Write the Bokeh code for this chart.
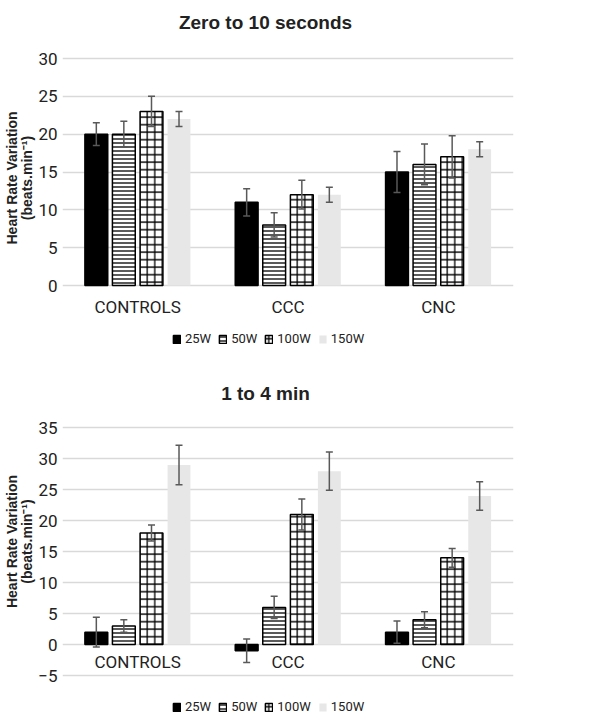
from bokeh.plotting import figure
from bokeh.models import (ColumnDataSource, Whisker, Legend, LegendItem, FactorRange,
                          Range1d, TeeHead, FixedTicker, Label)
from bokeh.transform import dodge
from bokeh.layouts import column
from bokeh.embed import file_html
from bokeh.resources import INLINE

categories = ["CONTROLS", "CCC", "CNC"]
series = ["25W", "50W", "100W", "150W"]

# Zero to 10 seconds
top_title = "Zero to 10 seconds"
top_ticks = [0, 5, 10, 15, 20, 25, 30]
top_25w = [20, 11, 15]
top_50w = [20, 8, 16]
top_100w = [23, 12, 17]
top_150w = [22, 12, 18]
top_err_25w = [1.5, 1.8, 2.7]
top_err_50w = [1.7, 1.6, 2.7]
top_err_100w = [2.0, 1.9, 2.8]
top_err_150w = [1.0, 1.0, 1.0]

# 1 to 4 min
bot_title = "1 to 4 min"
bot_ticks = [-5, 0, 5, 10, 15, 20, 25, 30, 35]
bot_25w = [2, -1, 2]
bot_50w = [3, 6, 4]
bot_100w = [18, 21, 14]
bot_150w = [29, 28, 24]
bot_err_25w = [2.4, 1.9, 1.8]
bot_err_50w = [1.0, 1.8, 1.3]
bot_err_100w = [1.3, 2.5, 1.5]
bot_err_150w = [3.2, 3.1, 2.3]

TICK_FONT = "Roboto"
BOLD_FONT = "Liberation Sans"
GRID = "#d9d9d9"
TEXT = "#222222"

styles = {
    "25W": dict(fill_color="black", line_color="black", line_width=1.5),
    "50W": dict(fill_color="white", line_color="black", line_width=1.5,
                hatch_pattern="horizontal_line", hatch_color="black",
                hatch_scale=4, hatch_weight=1.3),
    "100W": dict(fill_color="white", line_color="black", line_width=1.5,
                 hatch_pattern="cross", hatch_color="black",
                 hatch_scale=7.5, hatch_weight=1.3),
    "150W": dict(fill_color="#e7e7e7", line_color=None),
}
offsets = [-0.275, -0.092, 0.092, 0.275]


def make_fig(title, ticks, vals, errs, height, b_bottom, top_tick_px, low_tick_px,
             cat_standoff, legend_y, title_px):
    # the frame spans the whole figure height (minus b_bottom); the tick range is
    # mapped between top_tick_px and low_tick_px (figure pixel rows)
    frame_h = height - b_bottom
    per_px = (ticks[-1] - ticks[0]) / (low_tick_px - top_tick_px)
    hi = ticks[-1] + top_tick_px * per_px
    lo = ticks[0] - (frame_h - low_tick_px) * per_px
    p = figure(x_range=FactorRange(*categories), y_range=Range1d(lo, hi),
               width=600, height=height, output_backend="svg", title=None,
               toolbar_location=None, min_border_left=62, min_border_right=87,
               min_border_top=0, min_border_bottom=b_bottom)
    p.x_range.range_padding = 0
    data = {"cat": categories}
    for s in series:
        data[s] = vals[s]
        data[s + "_up"] = [v + e for v, e in zip(vals[s], errs[s])]
        data[s + "_lo"] = [v - e for v, e in zip(vals[s], errs[s])]
    src = ColumnDataSource(data)
    items = []
    for s, off in zip(series, offsets):
        r = p.vbar(x=dodge("cat", off, range=p.x_range), top=s, bottom=0,
                   width=0.152, source=src, **styles[s])
        items.append(LegendItem(label=s, renderers=[r]))
    for s, off in zip(series, offsets):
        w = Whisker(base=dodge("cat", off, range=p.x_range), upper=s + "_up",
                    lower=s + "_lo", source=src, line_color="#595959", line_width=1.5,
                    upper_head=TeeHead(size=7, line_color="#595959", line_width=1.5),
                    lower_head=TeeHead(size=7, line_color="#595959", line_width=1.5),
                    level="overlay")
        p.add_layout(w)

    p.add_layout(Label(x=203, y=frame_h - title_px, x_units="screen", y_units="screen",
                       text=title, text_align="center", text_baseline="middle",
                       text_font=BOLD_FONT, text_font_size="19px",
                       text_font_style="bold", text_color=TEXT))

    p.outline_line_color = None
    p.xgrid.grid_line_color = None
    p.ygrid.grid_line_color = GRID
    p.ygrid.grid_line_width = 1.5
    p.yaxis.ticker = FixedTicker(ticks=ticks)
    p.yaxis.axis_line_color = None
    p.yaxis.major_tick_line_color = None
    p.yaxis.minor_tick_line_color = None
    p.yaxis.major_tick_out = 0
    p.yaxis.major_label_standoff = 5
    p.yaxis.major_label_text_font = TICK_FONT
    p.yaxis.major_label_text_font_size = "17px"
    p.yaxis.major_label_text_color = TEXT
    p.yaxis.axis_label = "Heart Rate Variation\n(beats.min\u207b\u00b9)"
    p.yaxis.axis_label_text_font = BOLD_FONT
    p.yaxis.axis_label_text_font_size = "14px"
    p.yaxis.axis_label_text_font_style = "bold"
    p.yaxis.axis_label_text_color = TEXT
    p.yaxis.axis_label_text_line_height = 0.95
    p.yaxis.axis_label_standoff = 0

    p.xaxis.axis_line_color = None
    p.xaxis.major_tick_line_color = None
    p.xaxis.minor_tick_line_color = None
    p.xaxis.major_tick_out = 0
    p.xaxis.major_label_text_font = TICK_FONT
    p.xaxis.major_label_text_font_size = "17px"
    p.xaxis.major_label_text_color = TEXT
    p.xaxis.major_label_standoff = cat_standoff
    p.xaxis.fixed_location = 0

    legend = Legend(items=items, orientation="horizontal", location=(110, legend_y),
                    border_line_color=None, background_fill_alpha=0,
                    label_text_font=TICK_FONT, label_text_font_size="13px",
                    label_text_color=TEXT, glyph_width=9, glyph_height=10,
                    spacing=7, label_standoff=4, padding=0, margin=0)
    p.add_layout(legend)
    return p


top = make_fig(top_title, top_ticks,
               {"25W": top_25w, "50W": top_50w, "100W": top_100w, "150W": top_150w},
               {"25W": top_err_25w, "50W": top_err_50w, "100W": top_err_100w,
                "150W": top_err_150w},
               362, 7, 58, 285, 11, 9, 22)
bot = make_fig(bot_title, bot_ticks,
               {"25W": bot_25w, "50W": bot_50w, "100W": bot_100w, "150W": bot_150w},
               {"25W": bot_err_25w, "50W": bot_err_50w, "100W": bot_err_100w,
                "150W": bot_err_150w},
               363, 5, 65.3, 313, 7, 6, 31)

layout = column(top, bot, spacing=0)
open("out.html", "w").write(file_html(layout, INLINE))
